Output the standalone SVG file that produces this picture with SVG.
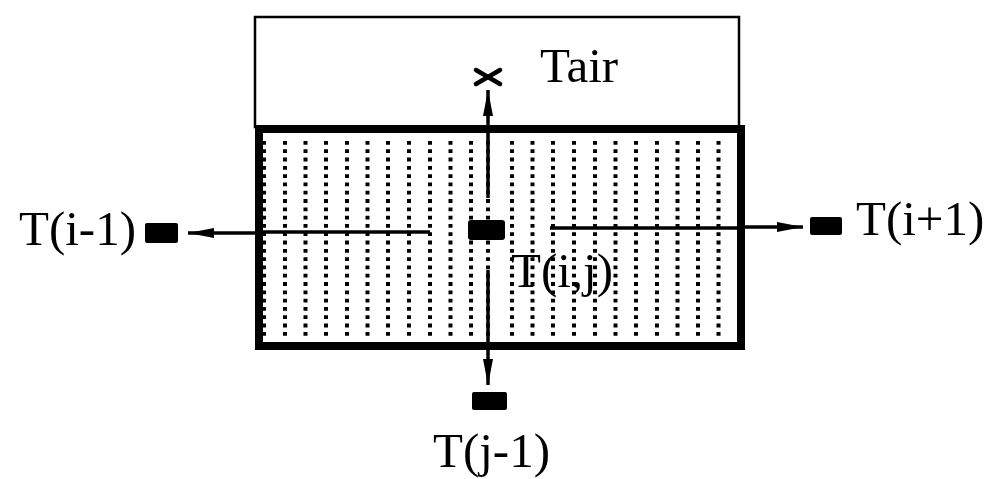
<svg xmlns="http://www.w3.org/2000/svg" width="1002" height="479" viewBox="0 0 1002 479">
<style>
.lbl{font-family:"Liberation Serif","DejaVu Serif","Times New Roman",serif;font-size:49px;fill:#000}
.ln{stroke:#000;stroke-width:3.5;fill:none}
.blk{fill:#000}
.dots{stroke:#000;stroke-width:4;stroke-dasharray:3.8 4.5;fill:none}
</style>
<defs>
<marker id="ah" viewBox="0 0 26 12" refX="26" refY="6" markerWidth="26" markerHeight="12" markerUnits="userSpaceOnUse" orient="auto">
<path d="M0,1 L26,6 L0,11 Z" fill="#000"/>
</marker>
</defs>
<rect width="1002" height="479" fill="#fff"/>
<g id="air">
<rect x="255" y="17" width="484" height="110" fill="none" stroke="#000" stroke-width="2.5"/>
<text class="lbl" x="540" y="82" font-family="Liberation Serif, serif">Tair</text>
<path d="M476,70 L500,84 M476,84 L500,70" stroke="#000" stroke-width="4.5" stroke-linecap="round"/>
</g>
<g id="cell">
<path class="dots" d="M264,141V338 M285,141V338 M305.5,141V338 M326,141V338 M347,141V338 M367.5,141V338 M388,141V338 M409,141V338 M430,141V338 M450.5,141V338 M471,141V338 M488,141V338 M512,141V338 M532.5,141V338 M553,141V338 M574,141V338 M595,141V338 M615.5,141V338 M636,141V338 M657,141V338 M677.5,141V338 M698,141V338 M718.5,141V338"/>
<rect x="259" y="129" width="482" height="217" fill="none" stroke="#000" stroke-width="8"/>
</g>
<g id="connectors">
<line class="ln" x1="259" y1="232" x2="430" y2="232"/>
<line class="ln" x1="550" y1="228" x2="741" y2="228"/>
<line class="ln" x1="488" y1="125" x2="488" y2="198"/>
<line class="ln" x1="488" y1="270" x2="488" y2="350"/>
<line class="ln" x1="488" y1="125" x2="488" y2="90" marker-end="url(#ah)"/>
<line class="ln" x1="259" y1="233" x2="188" y2="233" marker-end="url(#ah)"/>
<line class="ln" x1="741" y1="227" x2="803" y2="227" marker-end="url(#ah)"/>
<line class="ln" x1="488" y1="350" x2="488" y2="385" marker-end="url(#ah)"/>
</g>
<g id="node-center">
<rect class="blk" x="468" y="220" width="37" height="20" rx="3"/>
<text class="lbl" x="511" y="287" font-family="Liberation Serif, serif">T(i,j)</text>
</g>
<g id="node-left">
<rect class="blk" x="145" y="223" width="33" height="20" rx="2"/>
<text class="lbl" x="19" y="245" font-family="Liberation Serif, serif">T(i-1)</text>
</g>
<g id="node-right">
<rect class="blk" x="810" y="217" width="32" height="18" rx="2"/>
<text class="lbl" x="856" y="235" font-family="Liberation Serif, serif">T(i+1)</text>
</g>
<g id="node-bottom">
<rect class="blk" x="472" y="392" width="35" height="18" rx="2"/>
<text class="lbl" x="433" y="467" font-family="Liberation Serif, serif">T(j-1)</text>
</g>
</svg>
